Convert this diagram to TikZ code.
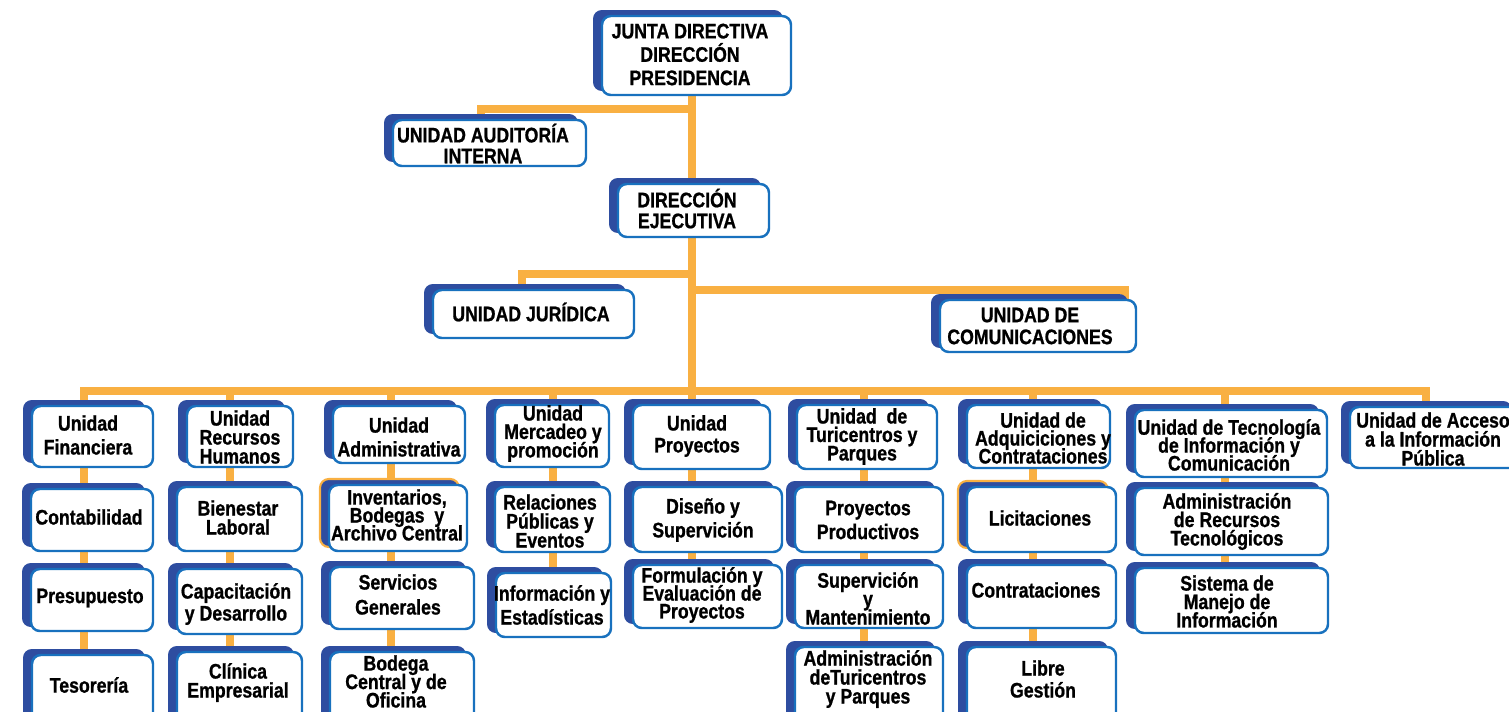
\documentclass[tikz,border=0pt]{standalone}
\usepackage{fontspec}
\setmainfont{Liberation Sans}[FakeStretch=0.84,FakeBold=0.9]
\usetikzlibrary{fit,backgrounds}
\definecolor{orng}{HTML}{F9B042}
\definecolor{dblue}{HTML}{2E4DA0}
\definecolor{bblue}{HTML}{1871BE}
\tikzset{
  shadowfill/.style={fill=dblue, rounded corners=5pt},
  orangeedge/.style={draw=orng, line width=1.2pt},
  wbox/.style={draw=bblue, line width=1.4pt, fill=white, rounded corners=5pt, inner sep=0pt},
  btext/.style={align=center, inner sep=0pt, text=black},
  conn/.style={draw=orng, line width=4pt, line join=miter},
}
\lineskiplimit=-20pt
\newcommand\orgbox[9][]{%
  \path[shadowfill,#1] ({#3-9},{#4-6}) rectangle ({#5-8},{#6-4});
  \node[wbox, fit={(#3,#4) (#5,#6)}] (#2) {};
  \node[btext, font=\fontsize{12}{#8}\selectfont\bfseries] (#2-t) at (#7) {#9};
}
\begin{document}
\begin{tikzpicture}[x=0.02cm,y=-0.02cm]
\useasboundingbox (0,0) rectangle (1509,711);
% top
\orgbox{junta}{602}{16}{791}{95}{690,54.5}{13.3pt}{JUNTA DIRECTIVA\\DIRECCIÓN\\PRESIDENCIA}
\orgbox{audit}{393}{120}{586}{166}{483,143.5}{11.9pt}{UNIDAD AUDITORÍA\\INTERNA}
\orgbox{dirEj}{618}{184}{769}{237}{687,208.5}{11.9pt}{DIRECCIÓN\\EJECUTIVA}
\orgbox{jur}{433}{290}{634}{338}{531,312}{12pt}{UNIDAD JURÍDICA}
\orgbox{com}{940}{300}{1136}{352}{1030,326}{12.5pt}{UNIDAD DE\\COMUNICACIONES}
% level 1
\orgbox{fin}{32}{406}{153}{467}{88,435}{13.6pt}{Unidad\\Financiera}
\orgbox{rh}{187}{406}{293}{467}{240,437}{10.8pt}{Unidad\\Recursos\\Humanos}
\orgbox{adm}{333}{406}{465}{463}{399,437}{13.6pt}{Unidad\\Administrativa}
\orgbox{mer}{495}{405}{609}{467}{553,433.5}{10.5pt}{Unidad\\Mercadeo y\\promoción}
\orgbox{proy}{633}{405}{770}{469}{697,436}{12.5pt}{Unidad\\Proyectos}
\orgbox{tur}{797}{405}{937}{469}{862,436.5}{10.5pt}{Unidad~ de\\Turicentros y\\Parques}
\orgbox{adq}{967}{405}{1110}{468}{1043,438}{10.2pt}{Unidad de\\Adquiciciones y\\Contrataciones}
\orgbox{tec}{1135}{410}{1327}{477}{1229,445}{10.2pt}{Unidad de Tecnología\\de Información y\\Comunicación}
\orgbox{acc}{1350}{407}{1520}{468}{1433,439}{10.8pt}{Unidad de Acceso\\a la Información\\Pública}
% level 2
\orgbox{cont}{31}{489}{153}{551}{89,517}{12pt}{Contabilidad}
\orgbox{pres}{31}{569}{153}{631}{90,598}{12pt}{Presupuesto}
\orgbox{tes}{32}{655}{153}{725}{89,685}{12pt}{Tesorería}
\orgbox{bien}{177}{487}{302}{551}{238,517.5}{10.8pt}{Bienestar\\Laboral}
\orgbox{cap}{177}{569}{302}{634}{236,604}{12.5pt}{Capacitación\\y Desarrollo}
\orgbox{cli}{177}{652}{302}{725}{238,682.5}{10.8pt}{Clínica\\Empresarial}
\orgbox[orangeedge]{inv}{329}{485}{467}{551}{397,515}{10.2pt}{Inventarios,\\Bodegas~ y\\Archivo Central}
\orgbox{serv}{330}{567}{474}{629}{398,594.5}{14.2pt}{Servicios\\Generales}
\orgbox{bod}{330}{652}{474}{725}{396,681.5}{10.5pt}{Bodega\\Central y de\\Oficina}
\orgbox{rel}{495}{487}{610}{552}{550,521}{10.8pt}{Relaciones\\Públicas y\\Eventos}
\orgbox{inf}{496}{573}{611}{637}{552,605}{13.6pt}{Información y\\Estadísticas}
\orgbox{dis}{633}{487}{782}{552}{703,520}{13.6pt}{Diseño y\\Supervición}
\orgbox{form}{633}{565}{782}{628}{702,595}{10.2pt}{Formulación y\\Evaluación de\\Proyectos}
\orgbox{prod}{795}{487}{943}{552}{868,520}{13.6pt}{Proyectos\\Productivos}
\orgbox{sup}{795}{565}{943}{628}{868,598.5}{10.5pt}{Supervición\\y\\Mantenimiento}
\orgbox{admt}{795}{647}{943}{725}{868,679}{10.8pt}{Administración\\deTuricentros\\y Parques}
\orgbox[orangeedge]{lic}{967}{487}{1116}{552}{1040,518}{12pt}{Licitaciones}
\orgbox{contr}{967}{565}{1116}{628}{1036,590}{12pt}{Contrataciones}
\orgbox{libre}{967}{647}{1116}{725}{1043,679}{12.5pt}{Libre\\Gestión}
\orgbox{art}{1135}{488}{1328}{555}{1227,521.5}{10.5pt}{Administración\\de Recursos\\Tecnológicos}
\orgbox{sis}{1135}{568}{1328}{633}{1227,601.5}{10.5pt}{Sistema de\\Manejo de\\Información}
% connectors
\coordinate (mainX) at (692,0);
\coordinate (audJ) at (481,109);
\coordinate (jurJ) at (522,274);
\coordinate (comJ) at (1125,290);
\coordinate (cFin) at (84,391);
\coordinate (cRH) at (230,391);
\coordinate (cAdm) at (391,391);
\coordinate (cMer) at (553,391);
\coordinate (cProy) at (692,391);
\coordinate (cTur) at (864,391);
\coordinate (cAdq) at (1033,391);
\coordinate (cTec) at (1225,391);
\coordinate (cAcc) at (1426,391);
\begin{scope}[on background layer]
\draw[conn] (junta.center -| mainX) -- (cProy);
\draw[conn] (audJ -| mainX) -- (audJ) -- (audit.center -| audJ);
\draw[conn] (jurJ -| mainX) -- (jurJ) -- (jur.center -| jurJ);
\draw[conn] (comJ -| mainX) -- (comJ) -- (com.center -| comJ);
\draw[conn] (tes.center -| cFin) -- (cFin) -- (cAcc) -- (acc.center -| cAcc);
\draw[conn] (cRH) -- (cli.center -| cRH);
\draw[conn] (cAdm) -- (bod.center -| cAdm);
\draw[conn] (cMer) -- (inf.center -| cMer);
\draw[conn] (cProy) -- (form.center -| cProy);
\draw[conn] (cTur) -- (admt.center -| cTur);
\draw[conn] (cAdq) -- (libre.center -| cAdq);
\draw[conn] (cTec) -- (sis.center -| cTec);
\end{scope}
\end{tikzpicture}
\end{document}
